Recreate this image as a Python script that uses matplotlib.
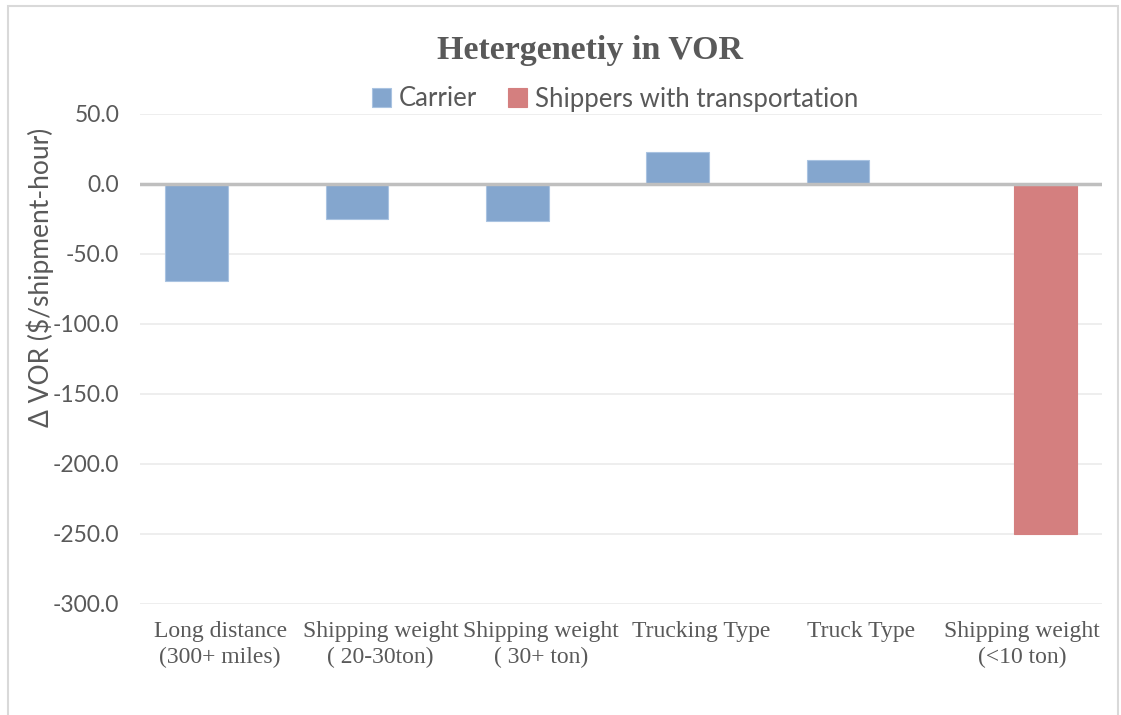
import matplotlib
matplotlib.use("Agg")
import matplotlib.pyplot as plt
import numpy as np
from matplotlib.patches import Rectangle

# categories and values
categories = [
    "Long distance\n(300+ miles)",
    "Shipping weight\n( 20-30ton)",
    "Shipping weight\n( 30+ ton)",
    "Trucking Type",
    "Truck Type",
    "Shipping weight\n(<10 ton)",
]
carrier = [-69.0, -24.8, -26.6, 22.9, 16.9, np.nan]
shippers = [np.nan, np.nan, np.nan, np.nan, np.nan, -250.3]
yticks = [50, 0, -50, -100, -150, -200, -250, -300]

BLUE = "#84a6ce"
RED = "#d47f7f"
TEXT = "#595959"

fig = plt.figure(figsize=(11.21, 7.15), dpi=100)
ax = fig.add_axes([140 / 1121, 1 - 604 / 715, 962 / 1121, 490 / 715])

x = np.arange(len(categories))
w = 0.39
off = 0.147
ax.bar(x - off, carrier, w, color=BLUE, edgecolor="#a9c3e1", linewidth=0.8,
       label="Carrier", zorder=3)
ax.bar(x + off, shippers, w, color=RED, edgecolor=RED, linewidth=0.8,
       label="Shippers with transportation", zorder=3)

ax.set_xlim(-0.5, len(categories) - 0.5)
ax.set_ylim(-300, 50)
ax.set_yticks(yticks)
ax.set_yticklabels([f"{v:.1f}" for v in yticks], family="Lato", fontsize=16.5, color=TEXT)
ax.yaxis.grid(True, color="#ebebeb", linewidth=1.2, zorder=0)
ax.axhline(0, color="#bfbfbf", linewidth=2.5, zorder=4)
ax.tick_params(axis="both", length=0)
ax.tick_params(axis="y", pad=15)
for s in ax.spines.values():
    s.set_visible(False)

ax.set_xticks(x)
ax.set_xticklabels(categories, family="Liberation Serif", fontsize=17, color=TEXT,
                   linespacing=1.3)
ax.tick_params(axis="x", pad=12)

fig.text(590 / 1121, 1 - 51 / 715, "Hetergenetiy in VOR", ha="center", va="center",
         family="Liberation Serif", fontweight="bold", fontsize=24.5, color=TEXT)
fig.text(40 / 1121, 1 - 277 / 715, "Δ VOR ($/shipment-hour)", ha="center", va="center",
         rotation=90, family="Lato", fontsize=19, color=TEXT)

leg = ax.legend(loc="center", bbox_to_anchor=(615 / 1121, 1 - 99 / 715),
                bbox_transform=fig.transFigure, ncol=2, frameon=False,
                prop={"family": "Lato", "size": 18.5}, handlelength=0.75, handleheight=0.75,
                handletextpad=0.3, columnspacing=1.2)
for t in leg.get_texts():
    t.set_color(TEXT)

# chart area border
fig.patches.append(Rectangle((8 / 1121, -0.01), 1110 / 1121, 1 - 6 / 715 + 0.01,
                             transform=fig.transFigure, fill=False,
                             edgecolor="#d9d9d9", linewidth=1.5))

fig.savefig("out.png", dpi=100, facecolor="white")
